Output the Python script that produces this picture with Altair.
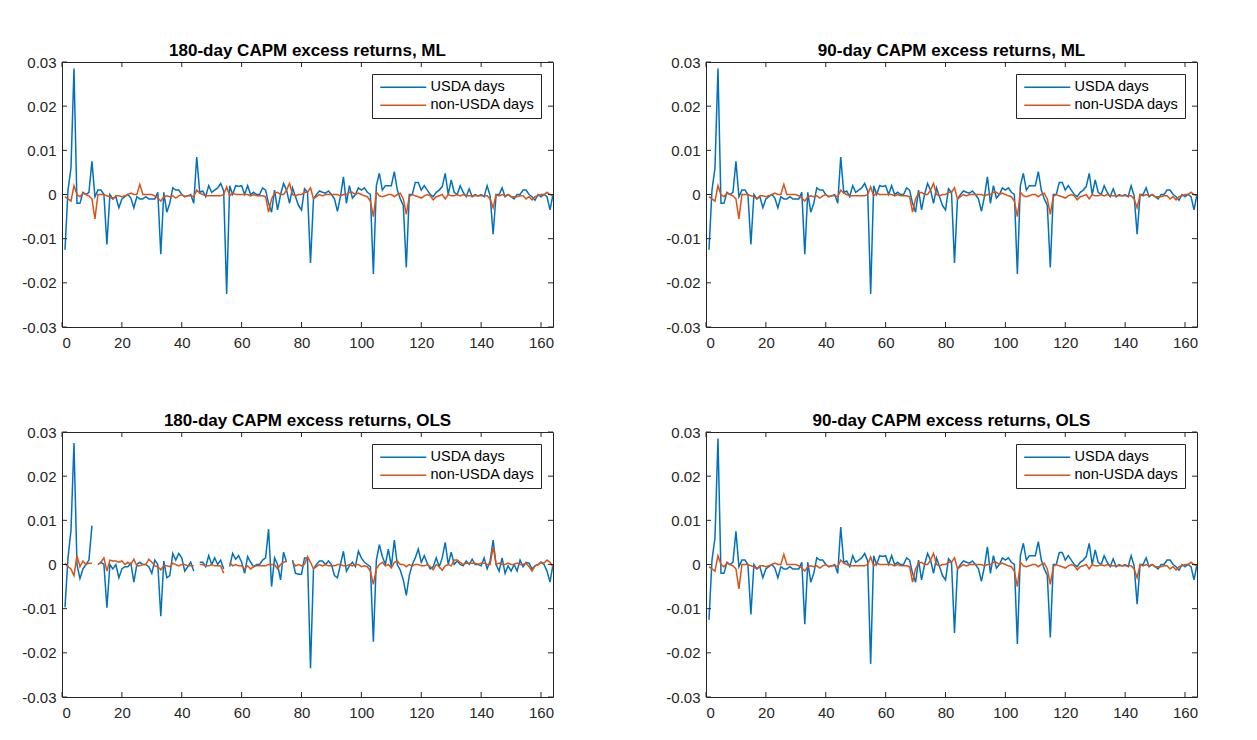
import altair as alt
import pandas as pd
import math

N = None

# x positions (observation index)
obs = list(range(1, 165))

# 180-day / 90-day ML and 90-day OLS panels (identical in the reference)
usda_ml = [
    -0.0125, 0.001, 0.006, 0.0285, -0.002, -0.002, 0.0005, 0.0, 0.0005, 0.0075,
    -0.0005, 0.001, 0.001, 0.0, -0.0113, 0.0, -0.001, -0.0005, -0.003, -0.001,
    -0.0005, 0.0, -0.0008, -0.003, -0.0005, -0.001, -0.001, -0.0005, -0.001, -0.001,
    -0.001, 0.0005, -0.0135, 0.0005, -0.004, -0.002, 0.0015, 0.001, 0.001, 0.0,
    -0.0005, -0.0003, 0.0, -0.002, 0.0085, 0.0005, 0.0008, -0.0005, 0.002, 0.0005,
    0.001, 0.0015, 0.0025, 0.0008, -0.0225, 0.002, 0.0, 0.002, 0.0018, 0.002,
    0.0, 0.002, 0.0, 0.0005, 0.0, 0.0, 0.0015, 0.001, -0.002, -0.004,
    0.001, -0.0035, 0.0, 0.0025, 0.001, -0.002, 0.0015, -0.0005, -0.0025, -0.0035,
    0.0013, 0.0005, -0.0155, -0.001, 0.0, 0.0008, 0.0005, 0.0003, 0.0008, 0.0,
    -0.001, -0.0038, -0.0005, 0.004, -0.002, 0.002, -0.0008, 0.0, 0.0015, 0.001,
    0.0015, 0.0005, 0.0, -0.018, 0.002, 0.0048, 0.001, 0.002, 0.002, 0.002,
    0.0052, 0.001, -0.001, -0.0025, -0.0165, 0.0, 0.0, 0.0027, 0.0027, 0.001,
    0.002, 0.001, 0.0, -0.0005, 0.0005, 0.001, 0.0018, 0.0048, 0.0, 0.0033,
    0.0005, 0.0, 0.002, 0.0005, -0.0005, 0.0013, -0.0005, 0.0, -0.0003, 0.0,
    -0.0005, 0.002, -0.0003, -0.009, 0.0, 0.0, 0.0015, -0.0005, 0.0, -0.0005,
    -0.001, 0.0, 0.0, 0.001, 0.001, 0.0, -0.0005, -0.0013, 0.0, -0.0005,
    0.0, -0.0005, -0.0035, 0.0,
]
non_ml = [
    -0.0005, -0.001, -0.0015, 0.002, 0.0, -0.0005, 0.0003, 0.0, -0.0003, -0.001,
    -0.0055, 0.0, 0.0, 0.0, -0.0003, -0.0005, -0.001, -0.0003, -0.0003, -0.0005,
    -0.0003, 0.0, 0.0003, 0.0, 0.0, 0.0023, 0.0, 0.0, 0.0, 0.0,
    -0.0003, -0.0008, -0.0015, -0.0005, -0.0003, -0.0005, -0.0003, -0.0008, -0.0003, 0.0,
    -0.0005, -0.0003, -0.0003, -0.0005, 0.001, 0.0003, 0.0, -0.0003, -0.0003, -0.0003,
    -0.0003, -0.0003, -0.0003, 0.0, 0.0017, -0.0003, 0.0003, 0.0, 0.0, 0.0,
    0.0, 0.0, -0.0003, 0.0, -0.0003, -0.0003, -0.0003, -0.0005, -0.004, -0.001,
    0.0003, 0.0005, 0.0, 0.0, 0.001, 0.0025, 0.0, -0.0003, 0.0, 0.0,
    0.0005, 0.0005, 0.0015, -0.001, -0.0005, 0.0, -0.0003, 0.0, 0.0, 0.0,
    0.0, 0.0, -0.0003, 0.0, 0.0, 0.0005, 0.0005, 0.0, 0.0003, 0.0,
    -0.0003, -0.0005, -0.0015, -0.005, 0.0005, -0.0003, -0.0005, -0.0003, 0.0, 0.0,
    -0.0005, 0.0, 0.0003, -0.001, -0.0045, -0.0005, 0.0, -0.0003, -0.0005, -0.0008,
    -0.0003, 0.0, -0.0003, -0.0012, -0.0005, -0.0003, 0.0, -0.001, 0.0, -0.0003,
    -0.0003, 0.0, -0.0003, 0.0, -0.0003, -0.0003, -0.0003, -0.0003, -0.0003, -0.0003,
    -0.0003, -0.0003, -0.001, -0.003, 0.0, -0.0003, 0.0, -0.0003, 0.0, -0.0005,
    -0.0005, -0.0005, -0.0003, -0.0003, -0.001, -0.0005, -0.0012, -0.0005, -0.0003, 0.0,
    0.0, 0.0005, 0.0, -0.0003,
]

# 180-day OLS panel (with missing observations)
usda_ols180 = [
    -0.0097, 0.0015, 0.0077, 0.0275, 0.0, -0.0032, -0.001, 0.0, 0.001, 0.0088,
    N, 0.0, 0.0005, 0.0, -0.0098, 0.0, -0.001, 0.0, -0.003, -0.001,
    -0.0005, -0.0005, 0.0003, -0.004, 0.0, 0.0005, 0.0, 0.0, -0.0005, -0.002,
    0.001, 0.0, -0.0117, 0.0008, -0.003, -0.0025, 0.0025, 0.001, 0.0025, 0.0015,
    -0.0015, -0.0005, 0.0005, -0.0015, N, 0.0005, 0.0005, -0.0005, 0.002, 0.0,
    0.0015, 0.0, 0.001, -0.001, N, -0.0005, 0.0025, 0.0012, 0.002, 0.0005,
    -0.002, 0.0018, 0.0005, -0.0005, 0.0, 0.0, 0.001, 0.0015, 0.008, -0.005,
    0.0015, 0.0, -0.0035, 0.0028, 0.0005, N, 0.001, -0.002, -0.0022, -0.0022,
    0.0015, 0.0015, -0.0235, -0.001, 0.0, 0.0008, 0.0008, 0.0, 0.0008, 0.0,
    -0.0025, -0.003, 0.0, 0.003, -0.0015, -0.0003, 0.0005, -0.0005, 0.003, 0.0015,
    0.0005, 0.0, -0.0005, -0.0175, 0.001, 0.0045, 0.0018, 0.0, 0.0035, -0.0005,
    0.0055, 0.0, -0.0013, -0.0035, -0.007, -0.0025, 0.0, 0.0015, 0.0035, 0.0005,
    0.002, 0.0003, -0.001, -0.0005, 0.0015, -0.0005, 0.0015, 0.005, 0.0, 0.0028,
    0.0, 0.0008, 0.0, -0.0003, 0.0008, 0.0, 0.0012, 0.0, 0.0, -0.0003,
    0.0015, -0.001, 0.0008, 0.0055, 0.0, -0.0015, 0.0015, -0.002, -0.0003, -0.0015,
    0.0, -0.0015, 0.001, -0.0005, 0.0005, 0.0003, -0.001, -0.0003, 0.0, 0.0005,
    0.0, -0.0015, -0.004, 0.0,
]
non_ols180 = [
    0.0003, -0.0005, -0.001, -0.0025, 0.002, -0.0005, 0.0008, 0.0, 0.0003, 0.0003,
    N, 0.0, 0.0005, 0.0015, -0.0015, 0.001, 0.0008, 0.0008, 0.0005, 0.0008,
    0.0, 0.0005, 0.0, 0.0012, -0.0003, -0.0003, 0.0, 0.0, 0.0012, 0.0005,
    -0.0003, -0.0005, -0.0012, -0.0003, -0.0003, -0.0005, 0.0003, 0.0, -0.0003, 0.0,
    0.0, -0.0003, -0.0003, -0.0003, N, 0.0, 0.0, -0.0003, -0.0003, 0.0,
    -0.0003, -0.0003, -0.0003, -0.002, N, 0.0005, -0.0003, 0.0, -0.0003, -0.0003,
    -0.001, -0.0003, -0.001, -0.0005, -0.0003, -0.0003, -0.0003, -0.0003, 0.0, 0.0,
    0.0, -0.001, 0.0, 0.0005, 0.0008, N, 0.0005, -0.0003, 0.0, -0.0003,
    0.0, 0.0018, 0.0005, -0.001, -0.0005, 0.0, -0.0003, 0.0, -0.0003, -0.0003,
    -0.0003, 0.0, 0.0, -0.0003, -0.0003, 0.0, -0.0003, 0.0, 0.0, -0.0005,
    -0.0003, -0.0005, -0.0015, -0.0045, -0.001, 0.0, 0.0005, -0.0003, 0.0, -0.0008,
    0.0005, 0.0008, 0.0, 0.0, -0.0005, 0.0, -0.0003, 0.0, 0.0, -0.0003,
    -0.0003, 0.0, -0.0005, -0.0012, 0.0, -0.0005, -0.0013, -0.0003, 0.0, -0.0003,
    0.001, 0.001, 0.0005, 0.0, 0.0003, 0.0003, 0.0003, 0.0003, 0.0, 0.0003,
    0.0003, 0.0, 0.0, 0.004, 0.0, 0.0003, 0.0, 0.0, 0.0003, 0.0,
    0.0, 0.0003, 0.0, 0.0, 0.0003, -0.0005, -0.0015, -0.0003, 0.0, 0.0005,
    0.0003, 0.001, 0.0005, -0.0005,
]

series_names = ["USDA days", "non-USDA days"]
series_colors = ["#0072BD", "#D95319"]
x_ticks = [0, 20, 40, 60, 80, 100, 120, 140, 160]
y_ticks = [-0.03, -0.02, -0.01, 0, 0.01, 0.02, 0.03]
titles = [
    "180-day CAPM excess returns, ML",
    "90-day CAPM excess returns, ML",
    "180-day CAPM excess returns, OLS",
    "90-day CAPM excess returns, OLS",
]

W, H = 491, 265
AX = "#262626"
FONT = "Liberation Sans"


def to_frame(usda, non):
    rows = []
    for name, vals in ((series_names[0], usda), (series_names[1], non)):
        seg = 0
        for xv, v in zip(obs, vals):
            if v is None or (isinstance(v, float) and math.isnan(v)):
                seg += 1
                continue
            rows.append({"x": xv, "v": v, "series": name, "seg": f"{name}-{seg}"})
    return pd.DataFrame(rows)


x_axis = alt.Axis(values=x_ticks, title=None, ticks=False, domain=False, grid=False,
                  labelPadding=8, labelFontSize=15, labelFont=FONT, labelColor=AX)
y_axis = alt.Axis(values=y_ticks, title=None, ticks=False, domain=False, grid=False,
                  labelPadding=6, labelFontSize=15, labelFont=FONT, labelColor=AX,
                  labelExpr="datum.value == 0 ? '0' : '' + datum.value")


def panel(usda, non, title):
    xs = alt.Scale(domain=[0, 164], nice=False, zero=False)
    ys = alt.Scale(domain=[-0.03, 0.03], nice=False, zero=False)
    df = to_frame(usda, non)
    lines = alt.Chart(df).mark_line(strokeWidth=1.5, clip=True).encode(
        x=alt.X("x:Q", scale=xs, axis=x_axis),
        y=alt.Y("v:Q", scale=ys, axis=y_axis),
        color=alt.Color("series:N", scale=alt.Scale(domain=series_names, range=series_colors),
                        legend=alt.Legend(title=None, orient="top-right", offset=12,
                                          symbolType="M-4.6,0H4.6", symbolSize=100,
                                          symbolOffset=18, symbolStrokeWidth=1.5,
                                          labelFontSize=14.5, labelFont=FONT,
                                          labelColor="black", labelOffset=20,
                                          strokeColor=AX, fillColor="white",
                                          padding=6, rowPadding=3)),
        detail="seg:N",
    )
    xt = pd.DataFrame({"t": x_ticks})
    yt = pd.DataFrame({"t": y_ticks})
    bottom = alt.Chart(xt).mark_rule(color=AX, strokeWidth=1).encode(
        x=alt.X("t:Q", scale=xs, axis=x_axis), y=alt.value(H), y2=alt.value(H - 5))
    top = alt.Chart(xt).mark_rule(color=AX, strokeWidth=1).encode(
        x=alt.X("t:Q", scale=xs, axis=x_axis), y=alt.value(0), y2=alt.value(5))
    left = alt.Chart(yt).mark_rule(color=AX, strokeWidth=1).encode(
        y=alt.Y("t:Q", scale=ys, axis=y_axis), x=alt.value(0), x2=alt.value(5))
    right = alt.Chart(yt).mark_rule(color=AX, strokeWidth=1).encode(
        y=alt.Y("t:Q", scale=ys, axis=y_axis), x=alt.value(W), x2=alt.value(W - 5))
    return alt.layer(lines, bottom, top, left, right).properties(
        width=W, height=H,
        title=alt.TitleParams(title, fontSize=17, fontWeight="bold", font=FONT,
                              color="black", offset=-5, frame="group", anchor="middle"),
    )


tl = panel(usda_ml, non_ml, titles[0])
tr = panel(usda_ml, non_ml, titles[1])
bl = panel(usda_ols180, non_ols180, titles[2])
br = panel(usda_ml, non_ml, titles[3])

chart = alt.concat(
    tl, tr, bl, br, columns=2, spacing={"row": 105, "column": 153}, bounds="flush"
).resolve_scale(color="independent").resolve_legend(color="independent").properties(
    padding={"left": 13, "top": 33, "right": 5, "bottom": 5},
    background="white",
).configure_view(stroke=AX, strokeWidth=1)

chart.save("out.html", embed_options={"renderer": "svg", "actions": False})
